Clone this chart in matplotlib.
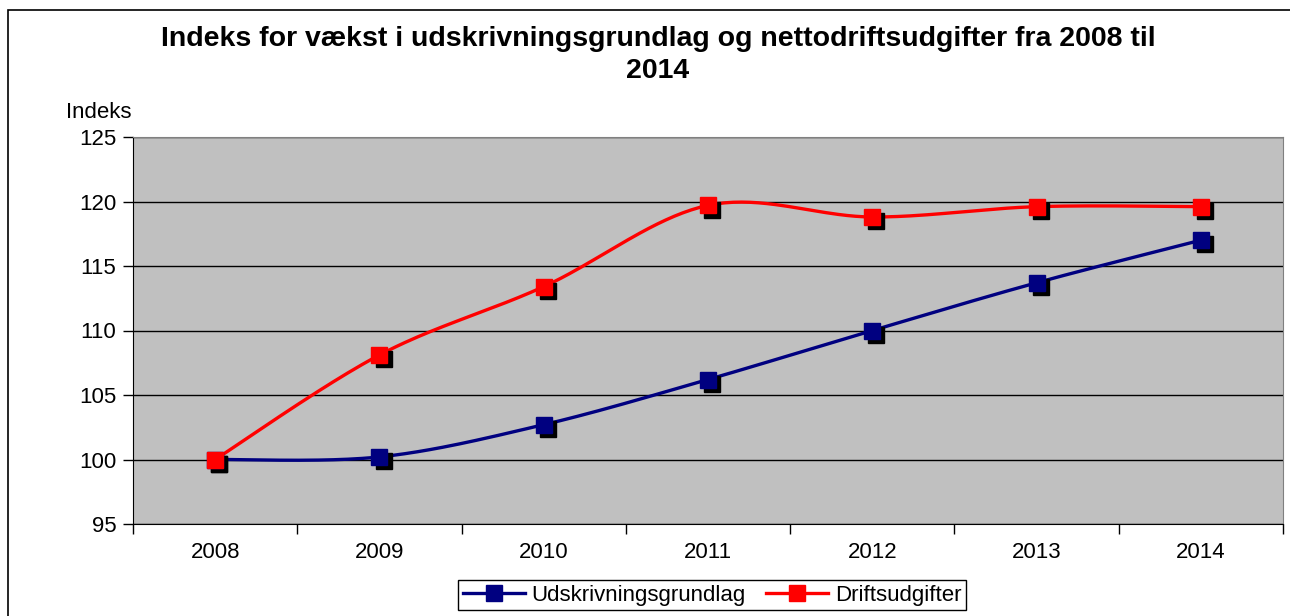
import numpy as np
import matplotlib
matplotlib.use('Agg')
import matplotlib.pyplot as plt
from matplotlib.lines import Line2D
from matplotlib.patches import Rectangle
from matplotlib.transforms import offset_copy

plt.rcParams['font.family'] = ['Liberation Sans', 'DejaVu Sans']

years = ['2008', '2009', '2010', '2011', '2012', '2013', '2014']
udskrivning = [100.0, 100.2, 102.7, 106.2, 110.0, 113.7, 117.0]
drift = [100.0, 108.1, 113.4, 119.7, 118.8, 119.6, 119.6]
y_ticks = [95, 100, 105, 110, 115, 120, 125]

navy = '#000080'
red = '#FF0000'


def smooth(xs, ys, n=40):
    # excel-like smoothed line (catmull-rom as bezier)
    p = np.column_stack([xs, ys]).astype(float)
    p = np.vstack([p[0], p, p[-1]])
    out = []
    for i in range(1, len(p) - 2):
        a, b = p[i], p[i + 1]
        c1 = a + (p[i + 1] - p[i - 1]) / 6
        c2 = b - (p[i + 2] - p[i]) / 6
        t = np.linspace(0, 1, n)[:, None]
        seg = (1 - t) ** 3 * a + 3 * (1 - t) ** 2 * t * c1 + 3 * (1 - t) * t ** 2 * c2 + t ** 3 * b
        out.append(seg if i == 1 else seg[1:])
    out = np.vstack(out)
    return out[:, 0], out[:, 1]


fig = plt.figure(figsize=(12.9, 6.16), dpi=100)
ax = fig.add_axes([133 / 1290, 1 - 524 / 616, (1283 - 133) / 1290, (524 - 137) / 616])
ax.set_facecolor('#C0C0C0')

x = np.arange(len(years))
shadow = offset_copy(ax.transData, fig=fig, x=3, y=-3, units='points')

for vals, col in [(udskrivning, navy), (drift, red)]:
    sx, sy = smooth(x, vals)
    ax.plot(sx, sy, color=col, lw=2.4, zorder=3, solid_capstyle='round')
    ax.plot(x, vals, ls='none', marker='s', ms=12, color='black', transform=shadow, zorder=4)
    ax.plot(x, vals, ls='none', marker='s', ms=12, color=col, zorder=5)

ax.set_xlim(-0.5, len(years) - 0.5)
ax.set_ylim(95, 125)
ax.set_yticks(y_ticks)
ax.tick_params(axis='y', labelsize=16, length=7, width=1, direction='out', pad=5)
ax.set_xticks(np.arange(-0.5, len(years), 1))
ax.set_xticklabels([])
ax.set_xticks(x, minor=True)
ax.set_xticklabels(years, minor=True)
ax.tick_params(axis='x', which='major', length=7, width=1, direction='out')
ax.tick_params(axis='x', which='minor', length=0, labelsize=16, pad=13)
ax.grid(axis='y', color='black', lw=1)
ax.set_axisbelow(True)
for s in ['top', 'right']:
    ax.spines[s].set_color('#808080')
for s in ['left', 'bottom']:
    ax.spines[s].set_color('black')

fig.text(658 / 1290, 1 - 26 / 616,
         'Indeks for vækst i udskrivningsgrundlag og nettodriftsudgifter fra 2008 til\n2014',
         ha='center', va='top', fontsize=20.5, fontweight='bold', linespacing=1.3)
fig.text(99 / 1290, 1 - 112 / 616, 'Indeks', ha='center', va='center', fontsize=16)

handles = [Line2D([], [], color=navy, lw=2.4, marker='s', ms=12),
           Line2D([], [], color=red, lw=2.4, marker='s', ms=12)]
leg = fig.legend(handles, ['Udskrivningsgrundlag', 'Driftsudgifter'], loc='lower center',
                 bbox_to_anchor=(712 / 1290, 6 / 616), borderaxespad=0, ncol=2, fontsize=16,
                 frameon=True, fancybox=False, edgecolor='black', framealpha=1, borderpad=0.2,
                 handlelength=2.8, handletextpad=0.3, columnspacing=0.9)
leg.get_frame().set_linewidth(1)

fig.patches.append(Rectangle((8 / 1290, -0.05), 1.1, 1 - 10 / 616 + 0.05,
                             transform=fig.transFigure, fill=False, edgecolor='black', lw=1.2))

fig.savefig('out.png', dpi=100)
